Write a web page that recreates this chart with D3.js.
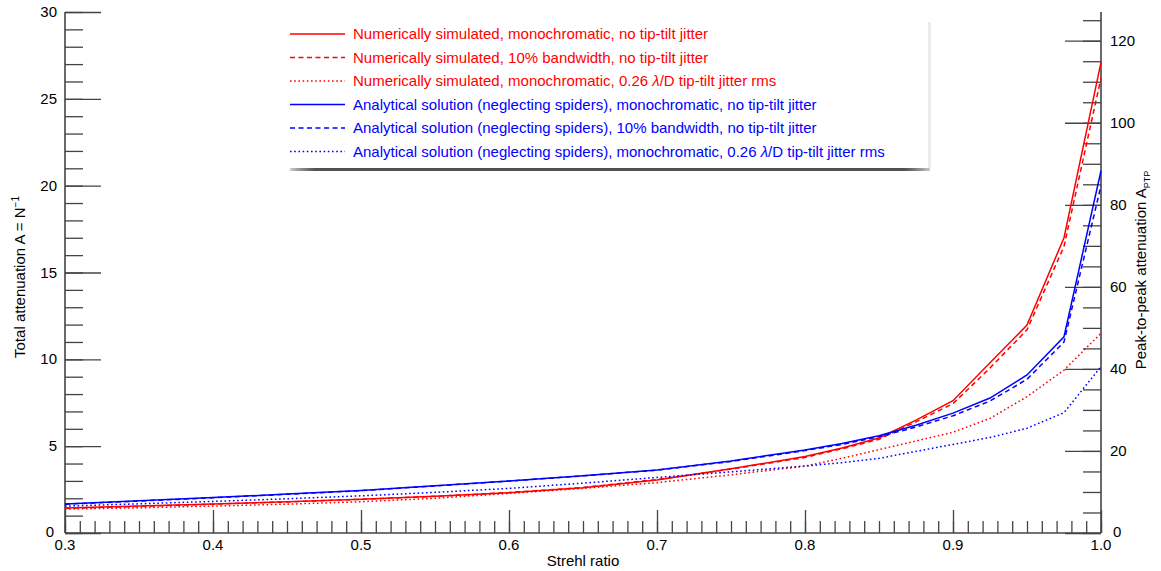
<!DOCTYPE html>
<html>
<head>
<meta charset="utf-8">
<script src="https://cdn.jsdelivr.net/npm/d3@7"></script>
<style>
  body { margin: 0; background: #fff; }
  text { font-family: "Liberation Sans", Arial, Helvetica, sans-serif; }
</style>
</head>
<body>
<script>
// strehl ratio sample points, shared by every curve
const strehl = [0.3, 0.35, 0.4, 0.45, 0.5, 0.55, 0.6, 0.65, 0.7, 0.75, 0.8, 0.825, 0.85, 0.875, 0.9, 0.925, 0.95, 0.975, 1.0]

// total attenuation
const numMono    = [1.44, 1.55, 1.67, 1.8, 1.95, 2.12, 2.32, 2.6, 3.05, 3.7, 4.4, 4.9, 5.47, 6.5, 7.62, 9.8, 11.97, 17.0, 27.1]
const numBand    = [1.42, 1.53, 1.66, 1.79, 1.94, 2.11, 2.33, 2.62, 3.08, 3.68, 4.35, 4.85, 5.4, 6.4, 7.45, 9.5, 11.7, 16.5, 26.2]
const numJitter  = [1.38, 1.45, 1.55, 1.66, 1.8, 2.0, 2.28, 2.57, 2.9, 3.35, 3.85, 4.3, 4.8, 5.3, 5.8, 6.6, 7.85, 9.38, 11.5]
const anaMono    = [1.67, 1.85, 2.04, 2.24, 2.45, 2.72, 3.0, 3.3, 3.63, 4.15, 4.78, 5.15, 5.6, 6.2, 6.9, 7.77, 9.1, 11.3, 20.86]
const anaBand    = [1.66, 1.84, 2.03, 2.23, 2.44, 2.71, 2.99, 3.29, 3.62, 4.12, 4.75, 5.1, 5.55, 6.1, 6.75, 7.6, 8.85, 11.0, 20.0]
const anaJitter  = [1.55, 1.68, 1.82, 1.97, 2.14, 2.34, 2.57, 2.87, 3.2, 3.52, 3.86, 4.05, 4.3, 4.7, 5.1, 5.5, 6.03, 6.93, 9.58]

const legendLabels = [
  'Numerically simulated, monochromatic, no tip-tilt jitter',
  'Numerically simulated, 10% bandwidth, no tip-tilt jitter',
  'Numerically simulated, monochromatic, 0.26 |λ|/D tip-tilt jitter rms',
  'Analytical solution (neglecting spiders), monochromatic, no tip-tilt jitter',
  'Analytical solution (neglecting spiders), 10% bandwidth, no tip-tilt jitter',
  'Analytical solution (neglecting spiders), monochromatic, 0.26 |λ|/D tip-tilt jitter rms'
]

const leftTicks = [0, 5, 10, 15, 20, 25, 30]
const rightTicks = [0, 20, 40, 60, 80, 100, 120]
const xTicks = [0.3, 0.4, 0.5, 0.6, 0.7, 0.8, 0.9, 1.0]

const config = {
  width: 1161,
  height: 571,
  left: 65,
  right: 1101,
  top: 12,
  bottom: 533,
  red: '#ff0000',
  blue: '#0000ff',
  axisColor: '#444',
  fontSize: 15
}

const series = [
  { values: numMono, color: config.red, dash: null },
  { values: numBand, color: config.red, dash: '5,3.5' },
  { values: numJitter, color: config.red, dash: '1.6,2.6' },
  { values: anaMono, color: config.blue, dash: null },
  { values: anaBand, color: config.blue, dash: '5,3.5' },
  { values: anaJitter, color: config.blue, dash: '1.6,2.6' }
]

const svg = d3.select('body').append('svg')
  .attr('width', config.width)
  .attr('height', config.height)

const x = d3.scaleLinear().domain([0.3, 1.0]).range([config.left, config.right])
const y = d3.scaleLinear().domain([0, 30]).range([config.bottom, config.top])
const y2 = d3.scaleLinear().domain([0, 127]).range([config.bottom, config.top])

// left axis: ticks pointing inward
const leftMinor = d3.axisRight(y).tickValues(d3.range(0, 31, 1)).tickSize(18).tickFormat('')
const leftMajor = d3.axisRight(y).tickValues(leftTicks).tickSize(36).tickFormat('')
svg.append('g').attr('transform', `translate(${config.left},0)`).call(leftMinor)
svg.append('g').attr('transform', `translate(${config.left},0)`).call(leftMajor)

// right axis
const rightMinor = d3.axisLeft(y2).tickValues(d3.range(0, 126, 5)).tickSize(18).tickFormat('')
const rightMajor = d3.axisLeft(y2).tickValues(rightTicks).tickSize(36).tickFormat('')
svg.append('g').attr('transform', `translate(${config.right},0)`).call(rightMinor)
svg.append('g').attr('transform', `translate(${config.right},0)`).call(rightMajor)

// bottom axis
const xMinor = d3.axisTop(x).tickValues(d3.range(30, 101, 1).map(d => d / 100)).tickSize(12).tickFormat('')
const xMajor = d3.axisTop(x).tickValues(xTicks).tickSize(23).tickFormat('')
svg.append('g').attr('transform', `translate(0,${config.bottom})`).call(xMinor)
svg.append('g').attr('transform', `translate(0,${config.bottom})`).call(xMajor)

svg.selectAll('.domain').remove()
svg.selectAll('.tick line').attr('stroke', config.axisColor).attr('stroke-width', 1.3)

// axis lines
svg.append('line').attr('x1', config.left).attr('x2', config.left).attr('y1', config.top).attr('y2', config.bottom)
  .attr('stroke', config.axisColor).attr('stroke-width', 1.6)
svg.append('line').attr('x1', config.right).attr('x2', config.right).attr('y1', config.top).attr('y2', config.bottom)
  .attr('stroke', config.axisColor).attr('stroke-width', 1.6)
svg.append('line').attr('x1', config.left).attr('x2', config.right).attr('y1', config.bottom).attr('y2', config.bottom)
  .attr('stroke', config.axisColor).attr('stroke-width', 1.6)

// tick labels (the zeros sit in the corners, next to the x labels)
svg.selectAll('.lt').data(leftTicks).enter().append('text')
  .attr('x', d => d === 0 ? 54 : 57).attr('y', d => d === 0 ? config.bottom + 4 : y(d) + 5)
  .attr('text-anchor', 'end').attr('font-size', config.fontSize).text(d => d)
svg.selectAll('.rt').data(rightTicks).enter().append('text')
  .attr('x', d => d === 0 ? 1113 : 1110).attr('y', d => d === 0 ? config.bottom + 4 : y2(d) + 5)
  .attr('text-anchor', 'start').attr('font-size', config.fontSize).text(d => d)
svg.selectAll('.xt').data(xTicks).enter().append('text')
  .attr('x', d => x(d)).attr('y', 550)
  .attr('text-anchor', 'middle').attr('font-size', config.fontSize).text(d => d3.format('.1f')(d))

// axis titles
svg.append('text').attr('x', 583).attr('y', 566).attr('text-anchor', 'middle')
  .attr('font-size', config.fontSize).text('Strehl ratio')

const lt = svg.append('text').attr('transform', 'translate(25,277) rotate(-90)')
  .attr('text-anchor', 'middle').attr('font-size', config.fontSize)
lt.append('tspan').text('Total attenuation A = N')
lt.append('tspan').attr('font-size', 10).attr('dy', -6).text('−1')

const rt = svg.append('text').attr('transform', 'translate(1146,270) rotate(-90)')
  .attr('text-anchor', 'middle').attr('font-size', config.fontSize)
rt.append('tspan').text('Peak-to-peak attenuation A')
rt.append('tspan').attr('font-size', 9).attr('dy', 4).text('PTP')

// curves
const line = d3.line().x(d => x(d[0])).y(d => y(d[1]))
series.forEach(s => {
  svg.append('path')
    .datum(strehl.map((v, i) => [v, s.values[i]]))
    .attr('d', line)
    .attr('fill', 'none')
    .attr('stroke', s.color)
    .attr('stroke-width', 1.5)
    .attr('stroke-dasharray', s.dash)
})

// legend box with bottom shadow
const lg = svg.append('g')
const grad = svg.append('defs').append('linearGradient').attr('id', 'shadow')
  .attr('x1', 0).attr('x2', 1).attr('y1', 0).attr('y2', 0)
grad.append('stop').attr('offset', '0%').attr('stop-color', '#000').attr('stop-opacity', 0.2)
grad.append('stop').attr('offset', '4%').attr('stop-color', '#333').attr('stop-opacity', 0.85)
grad.append('stop').attr('offset', '96%').attr('stop-color', '#333').attr('stop-opacity', 0.85)
grad.append('stop').attr('offset', '100%').attr('stop-color', '#000').attr('stop-opacity', 0.2)
lg.append('rect').attr('x', 928).attr('y', 22).attr('width', 3).attr('height', 146)
  .attr('fill', '#ddd').attr('opacity', 0.6)
lg.append('rect').attr('x', 290).attr('y', 168).attr('width', 640).attr('height', 3)
  .attr('fill', 'url(#shadow)')
lg.append('rect').attr('x', 286).attr('y', 12).attr('width', 642).attr('height', 156).attr('fill', '#fff')

legendLabels.forEach((label, i) => {
  const s = series[i]
  const cy = 34 + i * 23.5
  lg.append('line').attr('x1', 290).attr('x2', 345).attr('y1', cy).attr('y2', cy)
    .attr('stroke', s.color).attr('stroke-width', 1.5).attr('stroke-dasharray', s.dash)
  const t = lg.append('text').attr('x', 353).attr('y', cy + 5).attr('font-size', config.fontSize).attr('fill', s.color)
  label.split('|').forEach((part, j) => {
    t.append('tspan').attr('font-style', j === 1 ? 'italic' : null).text(part)
  })
})
</script>
</body>
</html>
